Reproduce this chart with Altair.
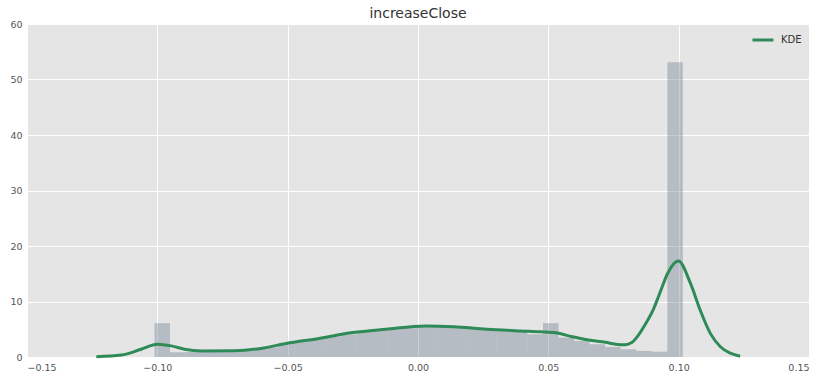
import altair as alt
import pandas as pd

# Histogram (density) — 34 bins
bin_start0 = -0.1011
bin_width = 0.005962
bar_heights = [6.1, 0.85, 0.9, 1.0, 1.1, 1.2, 1.4, 1.7, 2.5, 2.9, 3.3, 3.7, 4.1, 4.5,
               4.8, 5.0, 5.2, 5.4, 5.4, 5.3, 5.1, 5.0, 4.8, 4.6, 4.1, 6.1, 3.5, 2.9,
               2.3, 1.8, 1.4, 1.1, 0.95, 53.1]

# KDE curve
kde_x = [-0.1234, -0.1138, -0.1062, -0.1000, -0.0947, -0.0896, -0.0832, -0.0705, -0.0602,
         -0.0506, -0.0380, -0.0250, -0.0123, 0.0030, 0.0137, 0.0263, 0.0394, 0.0470,
         0.0528, 0.0592, 0.0655, 0.0719, 0.0765, 0.0795, 0.0820, 0.0845, 0.0872, 0.0903,
         0.0930, 0.0957, 0.0999, 0.1045, 0.1083, 0.1121, 0.1160, 0.1198, 0.1236]
kde_y = [0.05, 0.35, 1.4, 2.3, 2.0, 1.4, 1.08, 1.13, 1.55,
         2.45, 3.35, 4.4, 5.0, 5.6, 5.45, 5.0, 4.7, 4.55,
         4.37, 3.65, 3.05, 2.64, 2.25, 2.2, 2.6, 3.9, 5.9, 8.6,
         11.8, 15.0, 17.3, 13.3, 8.4, 4.3, 1.85, 0.7, 0.15]

x_ticks = [-0.15, -0.10, -0.05, 0.0, 0.05, 0.10, 0.15]
y_ticks = [0, 10, 20, 30, 40, 50, 60]

bars = pd.DataFrame({
    "start": [bin_start0 + i * bin_width for i in range(len(bar_heights))],
    "end": [bin_start0 + (i + 1) * bin_width for i in range(len(bar_heights))],
    "h": bar_heights,
})
kde = pd.DataFrame({"x": kde_x, "y": kde_y, "series": ["KDE"] * len(kde_x)})

FONT = "DejaVu Sans"

xscale = alt.Scale(domain=[-0.15, 0.15], nice=False, zero=False)
yscale = alt.Scale(domain=[0, 60], nice=False)

xaxis = alt.Axis(values=x_ticks, format=".2f", title=None, grid=True, gridColor="white",
                 gridWidth=1, ticks=False, domain=False, labelPadding=5,
                 labelFontSize=9.5, labelColor="#555555", labelFont=FONT)
yaxis = alt.Axis(values=y_ticks, format="d", title=None, grid=True, gridColor="white",
                 gridWidth=1, ticks=False, domain=False, labelPadding=5,
                 labelFontSize=9.5, labelColor="#555555", labelFont=FONT)

hist = alt.Chart(bars).mark_rect(color="#708090", opacity=0.4).encode(
    x=alt.X("start:Q", scale=xscale, axis=xaxis),
    x2="end:Q",
    y=alt.Y("h:Q", scale=yscale, axis=yaxis),
    y2=alt.datum(0),
)

line = alt.Chart(kde).mark_line(strokeWidth=3, interpolate="monotone").encode(
    x=alt.X("x:Q", scale=xscale),
    y=alt.Y("y:Q", scale=yscale),
    color=alt.Color("series:N",
                    scale=alt.Scale(domain=["KDE"], range=["#2E8B57"]),
                    legend=alt.Legend(title=None, orient="none", legendX=724, legendY=4,
                                      symbolType="stroke", symbolSize=441,
                                      symbolStrokeWidth=3, labelOffset=6,
                                      labelFontSize=10, labelColor="#333333",
                                      labelFont=FONT, padding=0)),
)

chart = alt.layer(hist, line).properties(
    width=782, height=333,
    title=alt.TitleParams("increaseClose", fontSize=14, font=FONT, fontWeight="normal",
                          color="#333333", offset=-2),
    autosize=alt.AutoSizeParams(type="none"),
    padding={"left": 27, "top": 24, "right": 16, "bottom": 25},
).configure_view(fill="#E5E5E5", stroke=None)

chart.save("out.html", embed_options={"renderer": "svg", "actions": False})
